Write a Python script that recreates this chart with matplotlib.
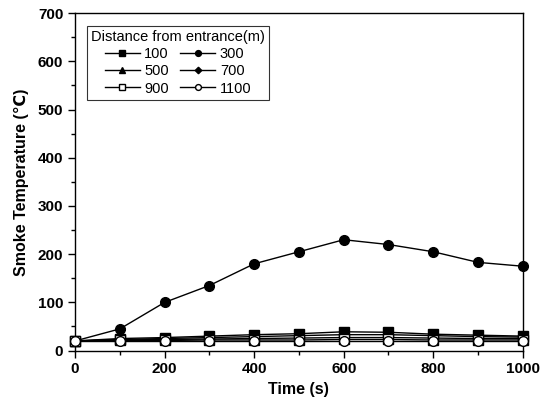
import matplotlib
matplotlib.use("Agg")
import matplotlib.pyplot as plt
from matplotlib.ticker import MultipleLocator

plt.rcParams['font.family'] = ['Liberation Sans', 'DejaVu Sans']

time_s = [0, 100, 200, 300, 400, 500, 600, 700, 800, 900, 1000]
d100 = [20, 25, 27, 30, 33, 35, 39, 38, 34, 32, 30]
d300 = [20, 45, 100, 135, 180, 205, 230, 220, 205, 183, 175]
d500 = [20, 23, 25, 27, 29, 31, 33, 33, 31, 29, 28]
d700 = [20, 22, 23, 24, 25, 26, 27, 27, 26, 25, 25]
d900 = [20, 21, 21, 22, 22, 22, 23, 23, 22, 22, 22]
d1100 = [20, 20, 20, 20, 20, 20, 20, 20, 20, 20, 20]

labels = ['100', '300', '500', '700', '900', '1100']
series = [d100, d300, d500, d700, d900, d1100]
markers = ['s', 'o', '^', 'D', 's', 'o']
faces = ['black', 'black', 'black', 'black', 'white', 'white']
msizes = [6.5, 7, 6.5, 5.5, 6.5, 7]

fig = plt.figure(figsize=(5.48, 4.11), dpi=100)
ax = fig.add_axes([0.137, 0.147, 0.817, 0.821])

order = [2, 3, 4, 0, 1, 5]
handles = [None] * 6
for i in order:
    h, = ax.plot(time_s, series[i], color='black', lw=1.0, marker=markers[i],
                 markersize=msizes[i], markerfacecolor=faces[i],
                 markeredgecolor='black', markeredgewidth=1.0, label=labels[i],
                 clip_on=False, zorder=3 + i)
    handles[i] = h

ax.set_xlim(0, 1000)
ax.set_ylim(0, 700)
ax.xaxis.set_major_locator(MultipleLocator(200))
ax.xaxis.set_minor_locator(MultipleLocator(100))
ax.yaxis.set_major_locator(MultipleLocator(100))
ax.yaxis.set_minor_locator(MultipleLocator(50))
ax.tick_params(which='both', direction='out', top=False, right=False, width=1.0)
ax.tick_params(which='major', length=5, labelsize=11)
ax.tick_params(which='minor', length=3)
for lab in ax.get_xticklabels() + ax.get_yticklabels():
    lab.set_fontweight('bold')
for s in ax.spines.values():
    s.set_linewidth(1.0)

ax.set_xlabel('Time (s)', fontsize=11.5, fontweight='bold', labelpad=4)
ax.set_ylabel('Smoke Temperature (\u2103)', fontsize=11.5, fontweight='bold', labelpad=6)

# row-wise ordering: 100 300 / 500 700 / 900 1100
leg_order = [0, 2, 4, 1, 3, 5]
leg = ax.legend(handles=[handles[k] for k in leg_order], ncol=2,
                title='Distance from entrance(m)',
                loc='upper left', bbox_to_anchor=(0.01, 0.985), fontsize=10.5,
                title_fontsize=10.5, frameon=True, fancybox=False,
                edgecolor='black', markerscale=0.6, handlelength=2.4,
                handletextpad=0.3, columnspacing=0.8, labelspacing=0.22,
                borderpad=0.3)
leg.get_frame().set_linewidth(0.8)
leg.set_zorder(20)

fig.savefig('out.png', dpi=100)
